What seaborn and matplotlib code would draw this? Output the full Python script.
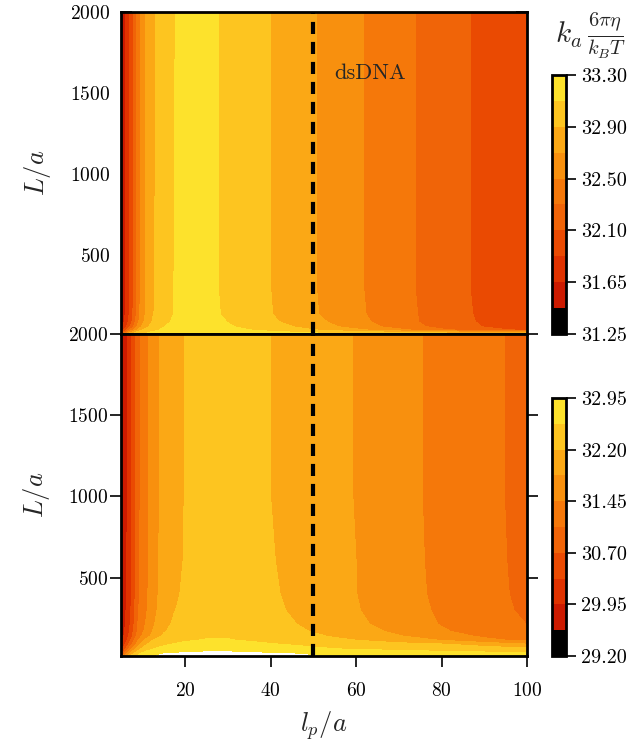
import numpy as np
import pandas as pd
import matplotlib
matplotlib.use("Agg")
import matplotlib.pyplot as plt
import seaborn as sns
from matplotlib.colors import ListedColormap

# ---------------- data ----------------
lp = [5, 6, 7, 8, 9, 10, 11, 12.5, 15, 17.5, 20, 25, 30, 35, 40, 45, 50, 55, 60, 70, 80, 90, 100]

# top panel : rows of L/a
L_top = [10, 20, 35, 55, 85, 130, 300, 1000, 2000]
top_L10 = [32.00, 32.45, 32.80, 32.98, 33.05, 33.08, 33.10, 33.13, 33.18, 33.22, 33.25, 33.27, 33.25, 33.22, 33.20, 33.17, 33.15, 33.13, 33.11, 33.08, 33.05, 33.02, 33.00]
top_L20 = [31.85, 32.25, 32.60, 32.83, 32.97, 33.04, 33.08, 33.12, 33.17, 33.21, 33.24, 33.25, 33.22, 33.18, 33.15, 33.11, 33.07, 33.03, 32.99, 32.90, 32.80, 32.70, 32.60]
top_L35 = [31.66, 31.97, 32.27, 32.52, 32.73, 32.88, 32.97, 33.05, 33.13, 33.18, 33.22, 33.22, 33.17, 33.10, 33.03, 32.97, 32.90, 32.82, 32.73, 32.53, 32.31, 32.15, 32.02]
top_L55 = [31.56, 31.80, 32.05, 32.30, 32.55, 32.73, 32.85, 32.98, 33.09, 33.16, 33.20, 33.20, 33.12, 33.04, 32.96, 32.895, 32.80, 32.70, 32.60, 32.39, 32.21, 32.06, 31.94]
top_L85 = [31.50, 31.71, 31.94, 32.18, 32.45, 32.64, 32.77, 32.92, 33.04, 33.13, 33.18, 33.18, 33.09, 33.00, 32.92, 32.85, 32.75, 32.65, 32.55, 32.35, 32.19, 32.04, 31.92]
top_L130 = [31.48, 31.67, 31.89, 32.12, 32.40, 32.60, 32.73, 32.88, 33.01, 33.105, 33.17, 33.16, 33.06, 32.98, 32.90, 32.80, 32.71, 32.61, 32.52, 32.35, 32.18, 32.03, 31.90]
top_L300 = [31.47, 31.66, 31.88, 32.10, 32.38, 32.58, 32.71, 32.87, 33.00, 33.10, 33.16, 33.15, 33.05, 32.97, 32.89, 32.79, 32.70, 32.60, 32.51, 32.34, 32.17, 32.02, 31.89]
top_L1000 = [31.47, 31.66, 31.875, 32.10, 32.38, 32.58, 32.71, 32.865, 33.00, 33.095, 33.16, 33.15, 33.05, 32.97, 32.89, 32.79, 32.70, 32.60, 32.51, 32.34, 32.17, 32.02, 31.89]
top_L2000 = [31.46, 31.65, 31.87, 32.10, 32.37, 32.58, 32.71, 32.86, 33.00, 33.09, 33.16, 33.15, 33.05, 32.97, 32.89, 32.79, 32.70, 32.60, 32.51, 32.34, 32.17, 32.02, 31.89]

# bottom panel : rows of L/a
L_bot = [18, 35, 60, 90, 115, 140, 170, 215, 300, 400, 600, 1000, 2000]
bot_L18 = [30.60, 31.50, 32.10, 32.45, 32.65, 32.78, 32.86, 32.96, 33.01, 33.04, 33.06, 33.08, 33.08, 33.07, 33.05, 33.01, 32.97, 32.92, 32.88, 32.81, 32.76, 32.71, 32.67]
bot_L35 = [30.40, 31.20, 31.80, 32.20, 32.45, 32.62, 32.74, 32.87, 32.97, 33.00, 33.03, 33.06, 33.06, 33.04, 33.00, 32.97, 32.93, 32.87, 32.82, 32.75, 32.70, 32.66, 32.63]
bot_L60 = [30.10, 30.70, 31.25, 31.70, 32.05, 32.30, 32.45, 32.58, 32.70, 32.78, 32.83, 32.87, 32.87, 32.83, 32.77, 32.70, 32.64, 32.59, 32.56, 32.50, 32.44, 32.38, 32.32]
bot_L90 = [29.90, 30.35, 30.80, 31.25, 31.65, 31.95, 32.18, 32.38, 32.52, 32.60, 32.65, 32.70, 32.69, 32.65, 32.60, 32.55, 32.50, 32.45, 32.40, 32.32, 32.23, 32.06, 31.85]
bot_L115 = [29.80, 30.15, 30.60, 31.05, 31.45, 31.75, 31.98, 32.22, 32.40, 32.48, 32.54, 32.60, 32.59, 32.55, 32.48, 32.40, 32.32, 32.26, 32.20, 32.00, 31.81, 31.55, 31.36]
bot_L140 = [29.75, 30.05, 30.43, 30.85, 31.25, 31.50, 31.68, 31.96, 32.26, 32.37, 32.44, 32.53, 32.55, 32.50, 32.43, 32.34, 32.25, 32.17, 32.06, 31.85, 31.63, 31.39, 31.20]
bot_L170 = [29.72, 30.00, 30.35, 30.76, 31.17, 31.40, 31.57, 31.85, 32.17, 32.30, 32.38, 32.47, 32.49, 32.45, 32.37, 32.27, 32.18, 32.09, 31.98, 31.74, 31.49, 31.30, 31.12]
bot_L215 = [29.68, 29.95, 30.27, 30.68, 31.10, 31.33, 31.50, 31.77, 32.11, 32.25, 32.33, 32.42, 32.44, 32.40, 32.32, 32.22, 32.13, 32.03, 31.90, 31.66, 31.43, 31.24, 31.07]
bot_L300 = [29.66, 29.90, 30.20, 30.61, 31.04, 31.27, 31.43, 31.70, 32.04, 32.19, 32.28, 32.37, 32.39, 32.35, 32.27, 32.17, 32.07, 31.97, 31.85, 31.60, 31.40, 31.20, 31.02]
bot_L400 = [29.64, 29.86, 30.16, 30.57, 31.01, 31.24, 31.40, 31.66, 32.01, 32.15, 32.25, 32.34, 32.36, 32.32, 32.24, 32.15, 32.04, 31.94, 31.83, 31.58, 31.38, 31.18, 31.00]
bot_L600 = [29.62, 29.84, 30.14, 30.55, 30.99, 31.22, 31.38, 31.64, 31.99, 32.12, 32.22, 32.32, 32.34, 32.30, 32.22, 32.13, 32.03, 31.93, 31.825, 31.57, 31.37, 31.17, 30.99]
bot_L1000 = [29.60, 29.82, 30.12, 30.53, 30.97, 31.20, 31.36, 31.62, 31.97, 32.10, 32.21, 32.31, 32.33, 32.29, 32.20, 32.11, 32.01, 31.91, 31.81, 31.56, 31.36, 31.16, 30.98]
bot_L2000 = [29.60, 29.82, 30.12, 30.53, 30.97, 31.20, 31.36, 31.62, 31.97, 32.10, 32.21, 32.31, 32.33, 32.29, 32.20, 32.11, 32.01, 31.91, 31.81, 31.56, 31.36, 31.16, 30.98]

# colour-bar ranges and labels
top_range = (31.25, 33.30)
bot_range = (29.20, 32.95)
top_cbar_labels = ["31.25", "31.65", "32.10", "32.50", "32.90", "33.30"]
bot_cbar_labels = ["29.20", "29.95", "30.70", "31.45", "32.20", "32.95"]
x_ticks = [20, 40, 60, 80, 100]
y_ticks = [500, 1000, 1500, 2000]
dsDNA_lp = 50

# ---------------- style ----------------
sns.set_theme(style="ticks")
plt.rcParams.update({
    "font.family": ["cmr10", "DejaVu Serif"],
    "mathtext.fontset": "cm",
    "axes.formatter.use_mathtext": True,
    "axes.unicode_minus": False,
    "axes.linewidth": 2.0,
    "axes.edgecolor": "black",
    "xtick.color": "black",
    "ytick.color": "black",
})

band_colors = ["#000000", "#cc1a00", "#e03200", "#ea4a02", "#f06408",
               "#f5780a", "#f8900e", "#fba815", "#fdc520", "#fde22c"]
cmap = ListedColormap(sns.color_palette(band_colors))

top_df = pd.DataFrame([top_L10, top_L20, top_L35, top_L55, top_L85, top_L130,
                       top_L300, top_L1000, top_L2000], index=L_top, columns=lp)
bot_df = pd.DataFrame([bot_L18, bot_L35, bot_L60, bot_L90, bot_L115, bot_L140,
                       bot_L170, bot_L215, bot_L300, bot_L400, bot_L600,
                       bot_L1000, bot_L2000], index=L_bot, columns=lp)

fig = plt.figure(figsize=(6.36, 7.44), dpi=100)
ax1 = fig.add_axes([0.1903, 0.5511, 0.6384, 0.4328])
ax2 = fig.add_axes([0.1903, 0.1183, 0.6384, 0.4328])
cax1 = fig.add_axes([0.8679, 0.5511, 0.022, 0.3481])
cax2 = fig.add_axes([0.8679, 0.1183, 0.022, 0.3468])

panels = [(ax1, cax1, top_df, top_range, top_cbar_labels),
          (ax2, cax2, bot_df, bot_range, bot_cbar_labels)]
for ax, cax, df, rng, labels in panels:
    levels = np.linspace(rng[0], rng[1], 11)
    cs = ax.contourf(df.columns.values, df.index.values, df.values,
                     levels=levels, cmap=cmap)
    ax.axvline(dsDNA_lp, color="black", lw=3, ls=(0, (2.9, 1.9)))
    ax.set_xlim(lp[0], lp[-1])
    ax.set_ylim(df.index.values[0], 2000)
    ax.set_xticks(x_ticks)
    ax.set_yticks(y_ticks)
    ax.set_ylabel("$L/a$", fontsize=19, labelpad=12)
    for s in ax.spines.values():
        s.set_linewidth(2)
        s.set_zorder(5)
    cb = fig.colorbar(cs, cax=cax, ticks=levels[::2])
    cb.ax.set_yticklabels(labels)
    cb.outline.set_linewidth(2)
    cb.ax.tick_params(direction="out", length=7, width=1.2, labelsize=14.5, pad=4)

ax1.tick_params(direction="in", top=True, right=True, length=8, width=1.2,
                labelbottom=False, labelsize=14)
ax1.tick_params(axis="y", pad=8)
ax2.tick_params(direction="out", top=False, right=True, length=8, width=1.2,
                labelsize=14)
ax2.tick_params(axis="y", pad=1)
ax2.tick_params(axis="x", pad=11)
ax2.set_xlabel("$l_p/a$", fontsize=19, labelpad=6)
ax1.text(55, 1620, "dsDNA", fontsize=16, va="center", ha="left")

fig.text(0.928, 0.952, r"$k_a\,\frac{6\pi\eta}{k_B T}$", ha="center",
         va="center", fontsize=21)

fig.savefig("out.png", dpi=100)
